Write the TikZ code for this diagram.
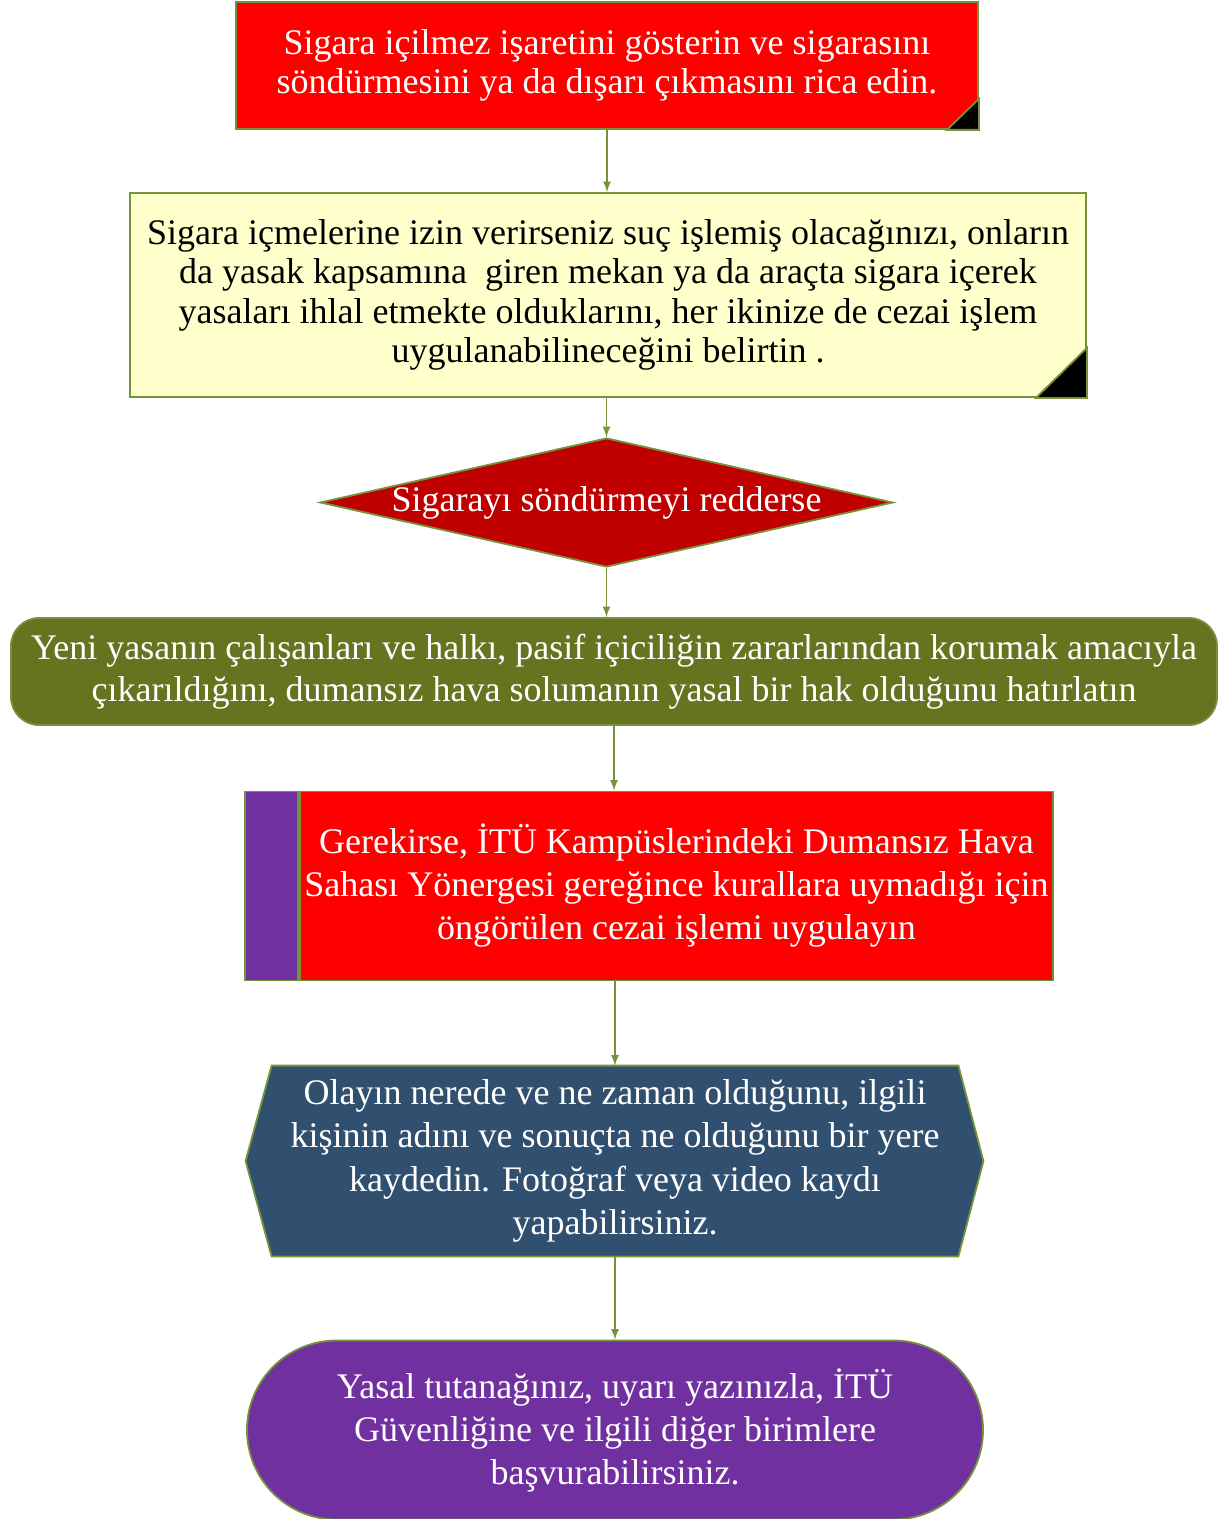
\documentclass[tikz,border=0pt]{standalone}
\usepackage{fontspec}
\setmainfont{Liberation Serif}
\usetikzlibrary{shapes.geometric,backgrounds}
\definecolor{edgegreen}{HTML}{76923C}
\definecolor{boxred}{HTML}{FF0000}
\definecolor{paleyellow}{HTML}{FFFFCC}
\definecolor{darkred}{HTML}{C00000}
\definecolor{boxolive}{HTML}{66731F}
\definecolor{boxblue}{HTML}{31506F}
\definecolor{boxpurple}{HTML}{7030A0}
\begin{document}
\begin{tikzpicture}[x=0.5pt,y=-0.5pt,
	every node/.style={draw=edgegreen, line width=0.9pt, text=white, align=center, inner sep=0pt},
	link/.style={-latex, edgegreen, line width=0.8pt}]
	\useasboundingbox (0,0) rectangle (1217,1519);
	\node[fill=boxred, minimum width=371pt, minimum height=63.5pt, font=\fontsize{18}{19.5}\selectfont] (b1) at (607,65.5)
	{Sigara içilmez işaretini gösterin ve sigarasını\\söndürmesini ya da dışarı çıkmasını rica edin.};
	\filldraw[fill=black, draw=edgegreen, line width=0.9pt] (b1.south east)--++(0,-31)--++(-32,31)--cycle;
	\node[fill=paleyellow, text=black, minimum width=478pt, minimum height=102pt, font=\fontsize{18}{19.75}\selectfont] (b2) at (608,295)
	{Sigara içmelerine izin verirseniz suç işlemiş olacağınızı, onların\\da yasak kapsamına\ \ giren mekan ya da araçta sigara içerek\\yasaları ihlal etmekte olduklarını, her ikinize de cezai işlem\\uygulanabilineceğini belirtin .};
	\filldraw[fill=black, draw=edgegreen, line width=0.9pt] (b2.south east)--++(0,-50)--++(-51,50)--cycle;
	\node[diamond, fill=darkred, minimum width=286.5pt, minimum height=64.5pt, font=\fontsize{18}{19.5}\selectfont] (dec) at (606.5,502.5)
	{\makebox[0pt]{Sigarayı söndürmeyi redderse}};
	\node[fill=boxolive, rounded corners=14pt, minimum width=603pt, minimum height=53.5pt, font=\fontsize{18}{21}\selectfont] (b4) at (614,671.5)
	{Yeni yasanın çalışanları ve halkı, pasif içiciliğin zararlarından korumak amacıyla\\çıkarıldığını, dumansız hava solumanın yasal bir hak olduğunu hatırlatın};
	\node[fill=boxred, minimum width=376.5pt, minimum height=94.5pt, font=\fontsize{18}{21.5}\selectfont] (b5) at (676.5,886)
	{Gerekirse, İTÜ Kampüslerindeki Dumansız Hava\\Sahası Yönergesi gereğince kurallara uymadığı için\\öngörülen cezai işlemi uygulayın};
	\node[fill=boxpurple, minimum width=26.5pt, minimum height=94.5pt, anchor=east] (strip) at (b5.west) {};
	\node[draw=none, minimum width=342.5pt, minimum height=94.5pt, font=\fontsize{18}{21.75}\selectfont] (hex) at (615,1161)
	{Olayın nerede ve ne zaman olduğunu, ilgili\\kişinin adını ve sonuçta ne olduğunu bir yere\\kaydedin. Fotoğraf veya video kaydı\\yapabilirsiniz.};
	\begin{pgfonlayer}{background}
	\filldraw[fill=boxblue, draw=edgegreen, line width=0.9pt] (hex.north west)--(hex.north east)--([xshift=12.5pt]hex.east)
	--(hex.south east)--(hex.south west)--([xshift=-13pt]hex.west)--cycle;
	\end{pgfonlayer}
	\node[fill=boxpurple, rounded corners=44.7pt, minimum width=368pt, minimum height=89.5pt, font=\fontsize{18}{21.5}\selectfont] (end) at (615,1430)
	{Yasal tutanağınız, uyarı yazınızla, İTÜ\\Güvenliğine ve ilgili diğer birimlere\\başvurabilirsiniz.};
	\draw[link] (b1.south)--(b1.south |- b2.north);
	\draw[link] (dec.north |- b2.south)--(dec.north);
	\draw[link] (dec.south)--(dec.south |- b4.north);
	\draw[link] (b4.south)--(b4.south |- strip.north);
	\draw[link] (hex.north |- b5.south)--(hex.north);
	\draw[link] (hex.south)--(end.north);
\end{tikzpicture}
\end{document}
